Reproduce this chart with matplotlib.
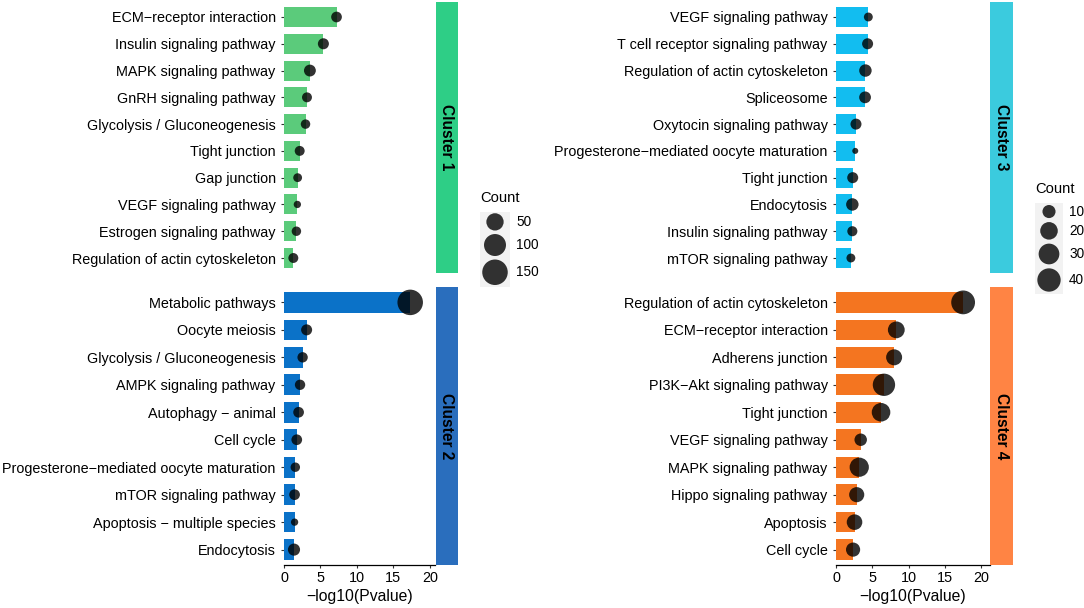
import numpy as np
import matplotlib
matplotlib.use("Agg")
import matplotlib.pyplot as plt

plt.rcParams['font.family'] = ['Liberation Sans', 'DejaVu Sans']

# ---- data ----
c1_terms = ["ECM−receptor interaction", "Insulin signaling pathway", "MAPK signaling pathway",
            "GnRH signaling pathway", "Glycolysis / Gluconeogenesis", "Tight junction",
            "Gap junction", "VEGF signaling pathway", "Estrogen signaling pathway",
            "Regulation of actin cytoskeleton"]
c1_logp = [7.2, 5.4, 3.55, 3.15, 2.95, 2.15, 1.87, 1.83, 1.7, 1.28]
c1_count = [12, 13, 16, 10, 9, 10, 8, 7, 9, 10]

c2_terms = ["Metabolic pathways", "Oocyte meiosis", "Glycolysis / Gluconeogenesis",
            "AMPK signaling pathway", "Autophagy − animal", "Cell cycle",
            "Progesterone−mediated oocyte maturation", "mTOR signaling pathway",
            "Apoptosis − multiple species", "Endocytosis"]
c2_logp = [17.3, 3.1, 2.55, 2.2, 2.0, 1.75, 1.55, 1.45, 1.45, 1.37]
c2_count = [150, 13, 11, 11, 12, 12, 9, 12, 7, 17]

c3_terms = ["VEGF signaling pathway", "T cell receptor signaling pathway",
            "Regulation of actin cytoskeleton", "Spliceosome", "Oxytocin signaling pathway",
            "Progesterone−mediated oocyte maturation", "Tight junction", "Endocytosis",
            "Insulin signaling pathway", "mTOR signaling pathway"]
c3_logp = [4.45, 4.35, 4.05, 4.0, 2.75, 2.65, 2.3, 2.25, 2.25, 2.05]
c3_count = [5, 7, 9, 8, 7, 4, 7, 9, 6, 5]

c4_terms = ["Regulation of actin cytoskeleton", "ECM−receptor interaction", "Adherens junction",
            "PI3K−Akt signaling pathway", "Tight junction", "VEGF signaling pathway",
            "MAPK signaling pathway", "Hippo signaling pathway", "Apoptosis", "Cell cycle"]
c4_logp = [17.5, 8.3, 8.0, 6.6, 6.2, 3.4, 3.2, 2.85, 2.55, 2.35]
c4_count = [42, 18, 16, 36, 23, 9, 25, 14, 15, 12]

left_breaks = [50, 100, 150]
right_breaks = [10, 20, 30, 40]
x_ticks = [0, 5, 10, 15, 20]

W, H = 1084, 608
fig = plt.figure(figsize=(W / 100, H / 100), dpi=100)


def px_axes(x0, y0, x1, y1):
    return fig.add_axes([x0 / W, 1 - y1 / H, (x1 - x0) / W, (y1 - y0) / H])


def dot_size(c, lo, hi, d0, amp):
    d = d0 + amp * np.sqrt((np.asarray(c, float) - lo) / (hi - lo))
    return (d * 0.72) ** 2


def panel(box, terms, vals, counts, bar_col, strip_box, strip_col, label, xmax, size_args, bottom):
    ax = px_axes(*box)
    y = np.arange(len(terms))
    ax.barh(y, vals, height=0.75, color=bar_col, zorder=2)
    ax.scatter(vals, y, s=dot_size(counts, *size_args), color='black', alpha=0.8,
               linewidths=0, zorder=3, clip_on=False)
    ax.set_ylim(len(terms) - 1 + 0.56, -0.56)
    ax.set_xlim(0, xmax)
    ax.set_yticks(y)
    ax.set_yticklabels(terms, fontsize=10.4)
    ax.tick_params(axis='y', length=2.5, width=0.8, pad=3.5, colors='#333333', labelcolor='black')
    for s in ['top', 'right', 'left']:
        ax.spines[s].set_visible(False)
    if bottom:
        ax.spines['bottom'].set_linewidth(0.9)
        ax.set_xticks(x_ticks)
        ax.tick_params(axis='x', length=2.5, width=0.8, pad=2, labelsize=10.4,
                       colors='#333333', labelcolor='black')
        ax.set_xlabel('−log10(Pvalue)', fontsize=11.3, labelpad=3)
    else:
        ax.spines['bottom'].set_visible(False)
        ax.set_xticks([])
    st = px_axes(*strip_box)
    st.set_facecolor(strip_col)
    st.set_xticks([])
    st.set_yticks([])
    for s in st.spines.values():
        s.set_visible(False)
    st.text(0.5, 0.5, label, rotation=270, ha='center', va='center', fontsize=11.2,
            fontweight='bold', transform=st.transAxes)
    return ax


def legend(x0, y_title, y_top, width, breaks, size_args, pad):
    d = np.sqrt(dot_size(breaks, *size_args)) / 0.72
    keys = d + pad
    total = keys.sum()
    lg = px_axes(x0, y_top, x0 + width, y_top + total)
    lg.set_xlim(0, width)
    lg.set_ylim(total, 0)
    lg.set_facecolor('#F2F2F2')
    lg.set_xticks([])
    lg.set_yticks([])
    for s in lg.spines.values():
        s.set_visible(False)
    centers = np.cumsum(keys) - keys / 2
    lg.scatter(np.full(len(breaks), width / 2), centers, s=dot_size(breaks, *size_args),
               color='black', alpha=0.8, linewidths=0, clip_on=False)
    for c, b in zip(centers, breaks):
        lg.text(width + 6, c, str(b), va='center', ha='left', fontsize=9.8)
    fig.text(x0 / W, 1 - y_title / H, 'Count', ha='left', va='center', fontsize=10.6)


left_sz = (min(c1_count + c2_count), max(c1_count + c2_count), 7.3, 18.2)
right_sz = (min(c3_count + c4_count), max(c3_count + c4_count), 6.0, 17.8)

panel((284, 2, 435, 273), c1_terms, c1_logp, c1_count, '#5BCB7B', (436, 2, 458, 273),
      '#2ECE86', 'Cluster 1', 20.7, left_sz, False)
panel((284, 287, 435, 565), c2_terms, c2_logp, c2_count, '#0B72C8', (436, 287, 458, 565),
      '#2A6EBD', 'Cluster 2', 20.7, left_sz, True)
panel((836, 2, 990, 273), c3_terms, c3_logp, c3_count, '#12BDF0', (990, 2, 1013, 273),
      '#3BCBDE', 'Cluster 3', 21.2, right_sz, False)
panel((836, 287, 990, 565), c4_terms, c4_logp, c4_count, '#F47520', (990, 287, 1013, 565),
      '#FF8444', 'Cluster 4', 21.2, right_sz, True)

legend(480, 198, 211.5, 30, left_breaks, left_sz, 3.5)
legend(1035, 189, 203, 28, right_breaks, right_sz, 4.0)

fig.savefig('out.png', dpi=100)
